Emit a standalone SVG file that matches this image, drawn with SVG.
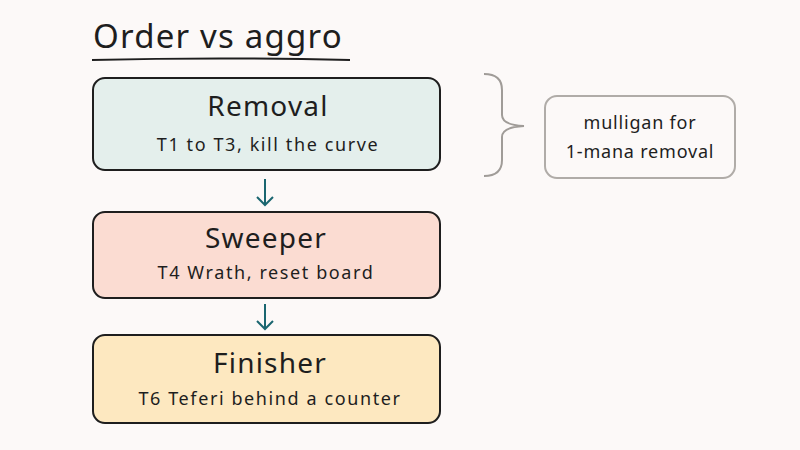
<svg xmlns="http://www.w3.org/2000/svg" width="800" height="450" viewBox="0 0 800 450">
<style>
text{font-family:"Noto Sans","DejaVu Sans",sans-serif;fill:#1e1e1e;text-anchor:middle}
.box{stroke:#1e1e1e;stroke-width:2}
.t{font-size:28px;letter-spacing:1.2px}
.s{font-size:18px;letter-spacing:1.6px}
.n{font-size:18px;letter-spacing:0.8px}
.c{stroke:#1a6670;stroke-width:2;fill:none}
</style>
<rect width="800" height="450" fill="#fcf9f8"/>
<text x="93" y="48" style="font-size:33px;text-anchor:start;letter-spacing:1.2px">Order vs aggro</text>
<path d="M92 60 Q220 57 350 60" stroke="#1e1e1e" stroke-width="2" fill="none"/>
<g id="removal"><rect class="box" x="93" y="78" width="347" height="92" rx="12" fill="#e4efec"/>
<text class="t" x="268" y="116">Removal</text><text class="s" x="268" y="151">T1 to T3, kill the curve</text></g>
<g id="sweeper"><rect class="box" x="93" y="212" width="347" height="86" rx="12" fill="#fbdcd2"/>
<text class="t" x="266" y="248">Sweeper</text><text class="s" x="266" y="279">T4 Wrath, reset board</text></g>
<g id="finisher"><rect class="box" x="93" y="335" width="347" height="88" rx="12" fill="#fde8c0"/>
<text class="t" x="270" y="373">Finisher</text><text class="s" x="270" y="405">T6 Teferi behind a counter</text></g>
<g id="note"><rect x="545" y="96" width="190" height="82" rx="12" fill="none" stroke="#b0aca8" stroke-width="2"/>
<text class="n" x="640" y="129">mulligan for</text><text class="n" x="640" y="158">1-mana removal</text></g>
<g id="brace"><path d="M484 74 Q502 74 502 90 L502 115 Q502 125 524 126 Q502 127 502 137 L502 160 Q502 176 484 176" fill="none" stroke="#a09c98" stroke-width="2"/></g>
<g id="connectors">
<path class="c" d="M265 179 V205 M257 197 L265 205 L273 197"/>
<path class="c" d="M265 304 V329 M257 321 L265 329 L273 321"/>
</g>
</svg>
